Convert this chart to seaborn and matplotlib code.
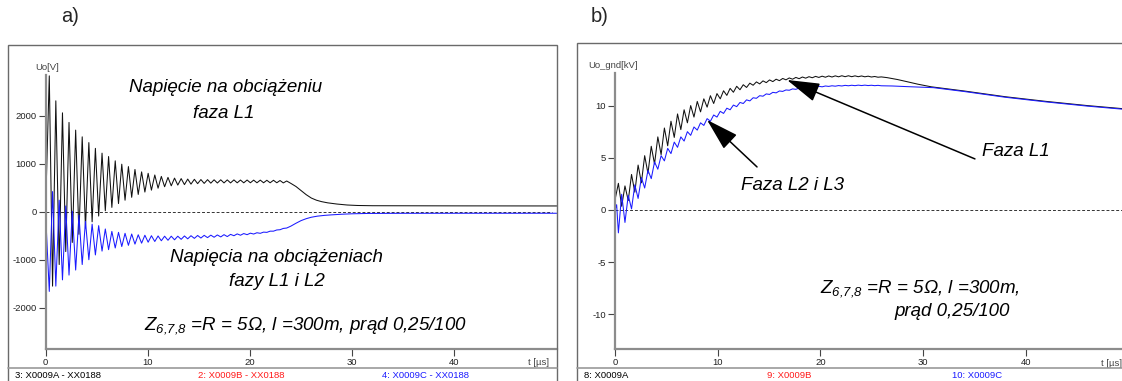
import numpy as np
import pandas as pd
import matplotlib
matplotlib.use("Agg")
import matplotlib.pyplot as plt
import seaborn as sns
from matplotlib.patches import Rectangle
from matplotlib.lines import Line2D

# ---------------- data ----------------
# panel a) load voltage Uo [V], times of successive extremes [us]
t_a_osc = [0.0, 0.37, 0.69, 1.01, 1.34, 1.66, 1.98, 2.30, 2.62, 2.95, 3.27, 3.59, 3.91,
           4.24, 4.56, 4.88, 5.20, 5.53, 5.85, 6.17, 6.49, 6.82, 7.14, 7.46, 7.78,
           8.11, 8.43, 8.75, 9.07, 9.40, 9.72, 10.04, 10.36, 10.69, 11.01, 11.33, 11.65,
           11.98, 12.30, 12.62, 12.94, 13.27, 13.59, 13.91, 14.23, 14.56, 14.88, 15.20,
           15.52, 15.85, 16.17, 16.49, 16.81, 17.14, 17.46, 17.78, 18.10, 18.43, 18.75,
           19.07, 19.39, 19.72, 20.04, 20.36, 20.68, 21.01, 21.33, 21.65, 21.97, 22.30,
           22.62, 22.94, 23.26, 23.59]
l1_a_osc = [0, 2830, -1550, 2310, -1100, 2060, -830, 1860, -640, 1700, -470, 1560, -340,
            1440, -210, 1320, -90, 1220, 20, 1150, 90, 1060, 170, 990, 240,
            940, 300, 880, 360, 830, 410, 800, 450, 765, 490, 735, 520,
            715, 540, 700, 555, 690, 565, 680, 575, 675, 585, 670,
            590, 668, 595, 665, 598, 665, 600, 663, 600, 663, 602,
            660, 602, 660, 603, 658, 603, 658, 603, 655, 603, 655,
            603, 650, 600, 640]
l23_a_osc = [0, -1660, 420, -1550, 240, -1420, 120, -1320, 10, -1215, -70, -1100, -200,
             -1000, -260, -900, -290, -820, -360, -790, -410, -755, -430, -725, -450,
             -700, -465, -675, -480, -655, -490, -635, -500, -620, -505, -605, -510,
             -595, -510, -585, -510, -575, -505, -565, -500, -555, -495, -548,
             -492, -540, -488, -532, -484, -525, -478, -518, -472, -500, -462,
             -490, -455, -478, -447, -465, -438, -450, -425, -430, -405, -405,
             -380, -375, -348, -340]
t_a_l1_tail = [24.0, 24.5, 25.0, 25.5, 26.0, 26.5, 27.0, 27.6, 28.5, 29.5, 30.5, 32.0, 40.0, 50.0]
l1_a_tail = [590, 525, 440, 355, 285, 240, 210, 185, 160, 140, 130, 125, 122, 120]
t_a_l23_tail = [24.0, 24.5, 25.0, 25.5, 26.0, 26.6, 27.3, 28.0, 29.0, 30.0, 31.5, 35.0, 42.0, 50.0]
l23_a_tail = [-300, -240, -185, -145, -115, -92, -76, -65, -52, -43, -36, -33, -32, -32]

# panel b) voltage to ground Uo_gnd [kV]
t_b_osc = [0.33, 0.65, 0.97, 1.29, 1.61, 1.93, 2.25, 2.57, 2.89, 3.21, 3.53, 3.85, 4.17,
           4.49, 4.81, 5.13, 5.45, 5.77, 6.09, 6.41, 6.73, 7.05, 7.37, 7.69, 8.01, 8.33,
           8.65, 8.97, 9.29, 9.61, 9.93, 10.25, 10.57, 10.89, 11.21, 11.53, 11.85, 12.17,
           12.49, 12.81, 13.13, 13.45, 13.77, 14.09, 14.41, 14.73, 15.05, 15.37, 15.69,
           16.01, 16.33, 16.65, 16.97, 17.29, 17.61, 17.93, 18.25, 18.57, 18.89, 19.21,
           19.53, 19.85, 20.17, 20.49, 20.81, 21.13, 21.45, 21.77, 22.09, 22.41, 22.73,
           23.05, 23.37, 23.69, 24.01, 24.33, 24.65, 24.97, 25.29, 25.61, 25.93]
l1_b_osc = [2.55, 0.35, 2.3, 0.9, 3.4, 1.7, 4.3, 2.6, 5.2, 3.5, 6.1, 4.4, 7.0,
            5.3, 7.85, 6.15, 8.5, 6.95, 9.2, 7.7, 9.6, 8.35, 10.0, 8.9, 10.4, 9.4,
            10.65, 9.85, 10.95, 10.2, 11.15, 10.65, 11.42, 10.98, 11.65, 11.28, 11.85, 11.52,
            12.0, 11.74, 12.15, 11.95, 12.27, 12.08, 12.37, 12.2, 12.46, 12.3, 12.53,
            12.39, 12.6, 12.47, 12.65, 12.53, 12.7, 12.58, 12.74, 12.63, 12.77, 12.67,
            12.8, 12.7, 12.82, 12.72, 12.84, 12.74, 12.85, 12.76, 12.86, 12.77, 12.86,
            12.77, 12.85, 12.77, 12.84, 12.76, 12.82, 12.74, 12.79, 12.72, 12.75]
l23_b_osc = [-2.2, 1.5, -1.2, 1.4, 0.1, 2.4, 1.1, 3.1, 2.1, 3.8, 3.0, 4.6, 3.9,
             5.2, 4.7, 5.9, 5.4, 6.5, 6.0, 7.0, 6.6, 7.5, 7.15, 7.95, 7.65, 8.35,
             8.1, 8.75, 8.5, 9.1, 8.9, 9.45, 9.25, 9.75, 9.6, 10.05, 9.9, 10.3,
             10.2, 10.55, 10.45, 10.75, 10.7, 10.95, 10.9, 11.12, 11.07, 11.27, 11.22,
             11.4, 11.36, 11.5, 11.47, 11.6, 11.56, 11.68, 11.64, 11.75, 11.7, 11.8,
             11.76, 11.85, 11.8, 11.88, 11.84, 11.9, 11.86, 11.92, 11.88, 11.94, 11.9,
             11.95, 11.91, 11.96, 11.92, 11.96, 11.92, 11.95, 11.91, 11.94, 11.9]
t_b_l1_head = [0.0, 0.05]
l1_b_head = [0.0, 1.2]
t_b_l23_head = [0.0, 0.16]
l23_b_head = [0.0, 0.5]
t_b_l1_tail = [26.5, 27.5, 28.4, 29.5, 30.8, 34.0, 38.0, 42.0, 46.0, 49.5]
l1_b_tail = [12.68, 12.5, 12.3, 12.05, 11.8, 11.4, 10.85, 10.4, 10.0, 9.7]
t_b_l23_tail = [27.0, 28.4, 31.0, 34.0, 38.0, 42.0, 46.0, 49.5]
l23_b_tail = [11.88, 11.82, 11.72, 11.35, 10.8, 10.35, 9.95, 9.65]

xticks = [0, 10, 20, 30, 40]
yticks_a = [-2000, -1000, 0, 1000, 2000]
yticks_b = [-10, -5, 0, 5, 10]

# ---------------- styling ----------------
sns.set_theme(style="white")
plt.rcParams["font.family"] = ["Liberation Sans", "DejaVu Sans"]
plt.rcParams["mathtext.fontset"] = "custom"
plt.rcParams["mathtext.it"] = "Liberation Sans:italic"
plt.rcParams["mathtext.rm"] = "Liberation Sans:italic"
plt.rcParams["axes.unicode_minus"] = False

W, H = 1122, 381
fig = plt.figure(figsize=(W / 100, H / 100), dpi=100)
fig.patch.set_facecolor("white")


def fx(px):
    return px / W


def fy(py):
    return 1 - py / H


BLACK = "#111111"
BLUE = "#1a1aff"
AXC = "#8c8c8c"


def frame(x0, x1, y0, y1):
    fig.add_artist(Rectangle((fx(x0), fy(y1)), fx(x1 - x0), (y1 - y0) / H,
                             transform=fig.transFigure, fill=False,
                             ec="#6a6a6a", lw=1.0))


def hline(x0, x1, y):
    fig.add_artist(Line2D([fx(x0), fx(x1)], [fy(y), fy(y)],
                          transform=fig.transFigure, color="#9a9a9a", lw=1.2))


def style_axis(ax, ylo, yhi_axis):
    for s in ["top", "right"]:
        ax.spines[s].set_visible(False)
    for s in ["left", "bottom"]:
        ax.spines[s].set_color(AXC)
        ax.spines[s].set_linewidth(1.6)
    ax.spines["left"].set_bounds(ylo, yhi_axis)
    ax.tick_params(axis="both", which="both", length=5, width=0.8, color="#444444",
                   labelsize=6.8, labelcolor="#222222", pad=1.5, direction="out",
                   left=True, bottom=True)
    ax.set_xlabel("")
    ax.set_ylabel("")
    ax.set_facecolor("white")
    ax.patch.set_alpha(0)


ZSUB = r"$Z_{6{,}7{,}8}$"

# ---------------- panel a ----------------
frame(8, 556.7, 45, 392)
hline(8, 556.7, 368)
ax_a = fig.add_axes([fx(45.5), fy(349.3), fx(556.7 - 45.5), (349.3 - 45) / H])
df_a = pd.concat([
    pd.DataFrame({"t": t_a_osc + t_a_l1_tail, "v": l1_a_osc + l1_a_tail, "s": "L1"}),
    pd.DataFrame({"t": t_a_osc + t_a_l23_tail, "v": l23_a_osc + l23_a_tail, "s": "L23"}),
])
ax_a.axhline(0, xmax=0.99, color="#333333", lw=0.7, ls=(0, (3, 2)))
sns.lineplot(data=df_a, x="t", y="v", hue="s", palette={"L1": BLACK, "L23": BLUE},
             estimator=None, sort=False, legend=False, lw=0.75, ax=ax_a)
ax_a.set_xlim(0, 50.0)
ax_a.set_ylim(-2866, 3473)
ax_a.set_xticks(xticks)
ax_a.set_yticks(yticks_a)
style_axis(ax_a, -2866, 2848)
ax_a.text(0.965, -0.045, "t [µs]", transform=ax_a.transAxes, fontsize=6.8,
          color="#444444", ha="center", va="center")
fig.text(fx(47), fy(67), "Uo[V]", fontsize=6.8, color="#444444", ha="center", va="center")

it = dict(fontsize=13.5, style="italic", color="black", ha="center", va="center")
fig.text(fx(226), fy(88), "Napięcie na obciążeniu", **it)
fig.text(fx(224), fy(113), "faza L1", **it)
fig.text(fx(276), fy(257), "Napięcia na obciążeniach", **it)
fig.text(fx(277), fy(282), "fazy L1 i L2", **it)
fig.text(fx(305), fy(326), ZSUB + " =R = 5Ω, l =300m, prąd 0,25/100", **it)

ft = dict(fontsize=6.8, ha="left", va="center")
fig.text(fx(15), fy(376), "3: X0009A - XX0188", color="black", **ft)
fig.text(fx(198), fy(376), "2: X0009B - XX0188", color="#ff1a1a", **ft)
fig.text(fx(382), fy(376), "4: X0009C - XX0188", color="#1a1aff", **ft)
fig.text(fx(70), fy(17), "a)", fontsize=14.5, ha="center", va="center")

# ---------------- panel b ----------------
frame(577, 1140, 43, 392)
hline(577, 1140, 368)
ax_b = fig.add_axes([fx(615), fy(349.3), fx(1122 - 615), (349.3 - 43) / H])
df_b = pd.concat([
    pd.DataFrame({"t": t_b_l1_head + t_b_osc + t_b_l1_tail,
                  "v": l1_b_head + l1_b_osc + l1_b_tail, "s": "L1"}),
    pd.DataFrame({"t": t_b_l23_head + t_b_osc + t_b_l23_tail,
                  "v": l23_b_head + l23_b_osc + l23_b_tail, "s": "L23"}),
])
ax_b.axhline(0, color="#333333", lw=0.7, ls=(0, (3, 2)))
sns.lineplot(data=df_b, x="t", y="v", hue="s", palette={"L1": BLACK, "L23": BLUE},
             estimator=None, sort=False, legend=False, lw=0.75, ax=ax_b)
ax_b.set_xlim(0, 49.37)
ax_b.set_ylim(-13.36, 16.0)
ax_b.set_xticks(xticks)
ax_b.set_yticks(yticks_b)
style_axis(ax_b, -13.36, 13.1)
ax_b.text(1.0, -0.045, "t [µs]", transform=ax_b.transAxes, fontsize=6.8,
          color="#444444", ha="right", va="center", clip_on=False)
fig.text(fx(613), fy(65), "Uo_gnd[kV]", fontsize=6.8, color="#444444", ha="center", va="center")

arr = dict(arrowstyle="-|>,head_length=1.7,head_width=0.5", color="black", lw=1.1,
           shrinkA=0, shrinkB=0)
ax_b.annotate("", xy=(16.75, 12.46), xytext=(35.05, 4.89), arrowprops=arr)
ax_b.annotate("", xy=(8.96, 8.63), xytext=(13.83, 4.12), arrowprops=arr)
it_l = dict(it)
it_l["ha"] = "left"
fig.text(fx(982), fy(152), "Faza L1", **it_l)
fig.text(fx(741), fy(186), "Faza L2 i L3", **it_l)
fig.text(fx(920), fy(289), ZSUB + " =R = 5Ω, l =300m,", **it)
fig.text(fx(952), fy(312), "prąd 0,25/100", **it)

fig.text(fx(584), fy(376), "8: X0009A", color="black", **ft)
fig.text(fx(767), fy(376), "9: X0009B", color="#ff1a1a", **ft)
fig.text(fx(952), fy(376), "10: X0009C", color="#1a1aff", **ft)
fig.text(fx(600), fy(17), "b)", fontsize=14.5, ha="center", va="center")

fig.savefig("out.png", dpi=100, facecolor="white")
